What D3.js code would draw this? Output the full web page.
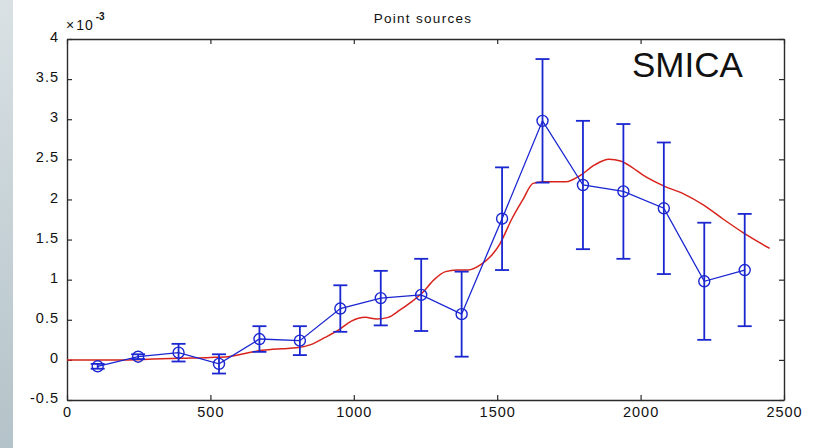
<!DOCTYPE html>
<html>
<head>
<meta charset="utf-8">
<script src="https://cdn.jsdelivr.net/npm/d3@7"></script>
<style>
  html, body { margin: 0; padding: 0; background: #fff; }
  svg { display: block; }
  text { font-family: "Liberation Sans", Arial, Helvetica, sans-serif; fill: #111; }
</style>
</head>
<body>
<svg id="chart" width="814" height="448"></svg>
<script>
// Binned point-source power (x 1e-3) with 1-sigma errors
const binCenters = [107, 248, 389, 530, 671, 812, 953, 1094, 1235, 1376, 1517, 1658, 1799, 1940, 2081, 2222, 2363];
const binValues  = [-0.08, 0.04, 0.09, -0.05, 0.26, 0.24, 0.64, 0.77, 0.81, 0.57, 1.76, 2.98, 2.18, 2.10, 1.89, 0.98, 1.12];
const binErrors  = [0.03, 0.03, 0.11, 0.12, 0.16, 0.18, 0.29, 0.34, 0.45, 0.53, 0.64, 0.77, 0.80, 0.84, 0.82, 0.73, 0.70];

// Model curve (x 1e-3)
const modelEll = [0, 100, 200, 300, 400, 500, 560, 620, 680, 750, 800, 850, 900, 950, 990, 1040, 1080, 1120, 1160, 1200,
                  1240, 1280, 1320, 1360, 1400, 1440, 1480, 1510, 1550, 1590, 1625, 1660, 1700, 1740, 1790, 1840, 1890,
                  1930, 1970, 2010, 2080, 2150, 2220, 2290, 2360, 2450];
const modelVal = [0, 0, 0, 0.01, 0.02, 0.03, 0.04, 0.08, 0.12, 0.14, 0.15, 0.19, 0.28, 0.38, 0.48, 0.53, 0.51, 0.53, 0.62, 0.72,
                  0.84, 1.0, 1.1, 1.12, 1.12, 1.18, 1.3, 1.45, 1.75, 2.0, 2.2, 2.22, 2.22, 2.22, 2.3, 2.43, 2.5,
                  2.48, 2.4, 2.3, 2.17, 2.07, 1.93, 1.75, 1.58, 1.39];

const xTicks = [0, 500, 1000, 1500, 2000, 2500];
const yTicks = [-0.5, 0, 0.5, 1, 1.5, 2, 2.5, 3, 3.5, 4];
const yTickLabels = ["-0.5", "0", "0.5", "1", "1.5", "2", "2.5", "3", "3.5", "4"];

const titleText = "Point sources";
const labelText = "SMICA";

const svg = d3.select("#chart");
const plotL = 67, plotR = 784, plotT = 39, plotB = 400;

const x = d3.scaleLinear().domain([0, 2500]).range([plotL, plotR]);
const y = d3.scaleLinear().domain([-0.5, 4]).range([plotB, plotT]);

// grey side band
const defs = svg.append("defs");
const grad = defs.append("linearGradient").attr("id", "band").attr("x1", 0).attr("y1", 0).attr("x2", 0).attr("y2", 1);
grad.append("stop").attr("offset", "0%").attr("stop-color", "#d9e1e4");
grad.append("stop").attr("offset", "100%").attr("stop-color", "#b4c3c9");
svg.append("rect").attr("x", 0).attr("y", 0).attr("width", 13).attr("height", 448).attr("fill", "url(#band)");

const clip = defs.append("clipPath").attr("id", "plotclip");
clip.append("rect").attr("x", plotL).attr("y", plotT).attr("width", plotR - plotL).attr("height", plotB - plotT);

// axes with inward ticks on all four sides
const tickLen = 5;
const axisColor = "#2b2b2b";
const axG = svg.append("g");

const xBottom = d3.axisBottom(x).tickValues(xTicks).tickSizeInner(-tickLen).tickSizeOuter(0).tickFormat(d => d);
const xTop = d3.axisTop(x).tickValues(xTicks).tickSizeInner(-tickLen).tickSizeOuter(0).tickFormat("");
const yLeft = d3.axisLeft(y).tickValues(yTicks).tickSizeInner(-tickLen).tickSizeOuter(0).tickFormat((d, i) => yTickLabels[i]);
const yRight = d3.axisRight(y).tickValues(yTicks).tickSizeInner(-tickLen).tickSizeOuter(0).tickFormat("");

function styleAxis(g) {
  g.select(".domain").attr("stroke", axisColor).attr("stroke-width", 1.4);
  g.selectAll(".tick line").attr("stroke", axisColor).attr("stroke-width", 1.2);
  g.selectAll(".tick text").attr("fill", "#111").style("font-size", "14.5px").style("letter-spacing", "1px")
    .style("font-family", "'Liberation Sans', Arial, sans-serif");
}

axG.append("g").attr("transform", `translate(0,${plotB})`).call(xBottom).call(styleAxis)
  .selectAll(".tick text").attr("y", 7).attr("dy", "0.71em");
axG.append("g").attr("transform", `translate(0,${plotT})`).call(xTop).call(styleAxis);
axG.append("g").attr("transform", `translate(${plotL},0)`).call(yLeft).call(styleAxis)
  .selectAll(".tick text").attr("x", -8).attr("y", -2).attr("dy", "0.32em");
axG.append("g").attr("transform", `translate(${plotR},0)`).call(yRight).call(styleAxis);

const plot = svg.append("g").attr("clip-path", "url(#plotclip)");

// model curve
const redLine = d3.line().x((d, i) => x(modelEll[i])).y(d => y(d)).curve(d3.curveMonotoneX);
plot.append("path").datum(modelVal).attr("d", redLine)
  .attr("fill", "none").attr("stroke", "#d8231c").attr("stroke-width", 1.5);

// binned data
const blue = "#1a26d0";
const pts = binCenters.map((c, i) => ({ c, v: binValues[i], e: binErrors[i] }));

const eb = plot.append("g").attr("stroke", blue).attr("stroke-width", 1.8).attr("fill", "none");
eb.selectAll("line.v").data(pts).join("line").attr("class", "v")
  .attr("x1", d => x(d.c)).attr("x2", d => x(d.c)).attr("y1", d => y(d.v - d.e)).attr("y2", d => y(d.v + d.e));
eb.selectAll("line.t").data(pts).join("line").attr("class", "t")
  .attr("x1", d => x(d.c) - 7).attr("x2", d => x(d.c) + 7).attr("y1", d => y(d.v + d.e)).attr("y2", d => y(d.v + d.e));
eb.selectAll("line.b").data(pts).join("line").attr("class", "b")
  .attr("x1", d => x(d.c) - 7).attr("x2", d => x(d.c) + 7).attr("y1", d => y(d.v - d.e)).attr("y2", d => y(d.v - d.e));

const blueLine = d3.line().x(d => x(d.c)).y(d => y(d.v));
plot.append("path").datum(pts).attr("d", blueLine)
  .attr("fill", "none").attr("stroke", blue).attr("stroke-width", 1.3);

plot.append("g").selectAll("circle").data(pts).join("circle")
  .attr("cx", d => x(d.c)).attr("cy", d => y(d.v)).attr("r", 5.5)
  .attr("fill", "none").attr("stroke", blue).attr("stroke-width", 1.4);

// title
svg.append("text").attr("x", 423).attr("y", 23).attr("text-anchor", "middle")
  .style("font-size", "13.5px").style("letter-spacing", "1.3px").text(titleText);

// exponent marker
const ex = svg.append("text").attr("x", 66).attr("y", 30).style("font-size", "14px");
ex.append("tspan").text("\u00d7").style("letter-spacing", "2px");
ex.append("tspan").text("10").style("letter-spacing", "1px");
ex.append("tspan").attr("dy", -10).attr("dx", 2).style("font-size", "10px").style("font-weight", "bold").text("-3");

// method label
svg.append("text").attr("x", 632).attr("y", 77).style("font-size", "35px").text(labelText);
</script>
</body>
</html>
